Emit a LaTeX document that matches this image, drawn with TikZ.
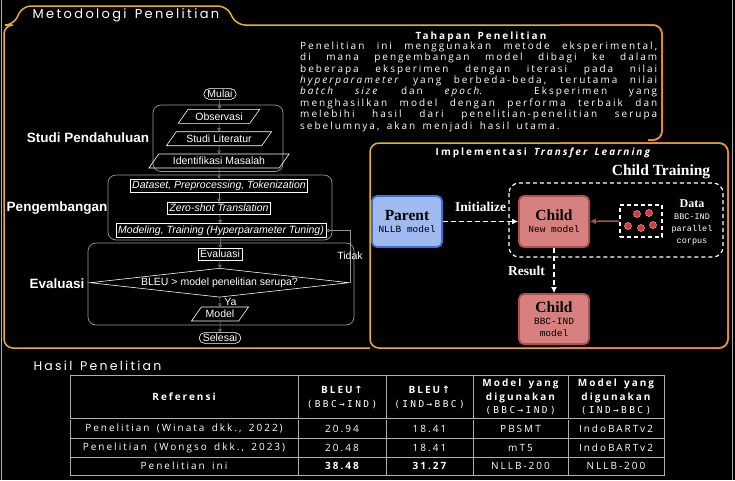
\documentclass[tikz,border=0pt]{standalone}
\usepackage{fontspec}
\setmainfont{Liberation Serif}
\newfontfamily\spacedfont[LetterSpace=20, WordSpace=1.6]{Open Sans}
\newfontfamily\headfont[LetterSpace=18, WordSpace=1.4]{Poppins}
\newfontfamily\flowfont{Liberation Sans}
\newfontfamily\codefont{Liberation Mono}
\newfontfamily\spacedmono[LetterSpace=25]{DejaVu Sans Mono}
\newfontfamily\symfont{DejaVu Sans}
\usetikzlibrary{shapes.geometric,shapes.misc,arrows.meta,positioning}

\definecolor{framegold}{RGB}{228,178,52}
\definecolor{frameorange}{RGB}{238,140,58}
\definecolor{parentfill}{RGB}{160,185,240}
\definecolor{parentdraw}{RGB}{60,110,220}
\definecolor{childfill}{RGB}{214,128,128}
\definecolor{childdraw}{RGB}{178,78,76}
\definecolor{dotred}{RGB}{205,60,60}
\definecolor{dotring}{RGB}{240,140,140}
\definecolor{tablegray}{RGB}{175,175,175}

\newcommand{\boxname}[1]{{\bfseries\fontsize{15.5}{17}\selectfont #1}}
\newcommand{\boxcode}[1]{{\codefont\fontsize{9.5}{10.5}\selectfont #1}}
\newcommand{\datacode}[1]{{\codefont\fontsize{8.5}{10}\selectfont #1}}

\tikzset{
  flowtxt/.style={text=white, font=\flowfont\fontsize{10.5}{12}\selectfont, line width=0.6pt},
  terminal/.style={flowtxt, draw=white, rounded rectangle, inner xsep=2pt, inner ysep=1.5pt},
  process/.style={flowtxt, draw=white, inner xsep=2pt, inner ysep=2pt},
  inout/.style={flowtxt, draw=white, trapezium, trapezium left angle=55, trapezium right angle=125, inner xsep=0pt, inner ysep=1.5pt, minimum height=14pt},
  decision/.style={flowtxt, draw=white, diamond, aspect=9, inner sep=0pt, minimum width=259pt, minimum height=29pt},
  flowarrow/.style={draw=gray!85, line width=0.5pt, -{Triangle[open,length=3pt,width=3.5pt]}},
  groupbox/.style={draw=gray!80!white, rounded corners=8pt, line width=0.7pt},
  grouplabel/.style={text=white, font=\flowfont\bfseries\fontsize{13.5}{15}\selectfont},
  headtxt/.style={text=white, font=\headfont\fontsize{13}{15}\selectfont},
  spaced/.style={text=white, font=\spacedfont\fontsize{10}{11.4}\selectfont},
  modelbox/.style={rounded corners=5pt, line width=1.8pt, minimum width=70pt, minimum height=51pt, align=center, text=black, inner sep=0pt},
  tflabel/.style={text=white, font=\bfseries\fontsize{13.5}{15}\selectfont},
  tfarrow/.style={white, line width=1.5pt, dash pattern=on 5pt off 3pt, -{Latex[length=6pt,width=6pt]}},
  tline/.style={tablegray, line width=0.7pt}
}

\begin{document}
\begin{tikzpicture}[x=1pt, y=-1pt]
  % Background
  \fill[black] (0,0) rectangle (735,480);
  \useasboundingbox (0,0) rectangle (735,480);
  \draw[gray!60, line width=0.6pt] (1.5,0) -- (1.5,480);
  \draw[gray!60, line width=0.6pt] (732,0) -- (732,480);

  % Frames
  \draw[framegold, line width=1.5pt, rounded corners=9pt] (370,348) -- (4,348) -- (4,25) -- (14,25) -- (22,6) -- (227,6) -- (236,25) -- (662,25) -- (662,140) -- (648,140);
  \draw[frameorange, line width=1.5pt, rounded corners=9pt] (560,25) -- (662,25) -- (662,140) -- (648,140);
  \draw[framegold, line width=1.5pt, rounded corners=9pt] (370,143) rectangle (728,348);
  \draw[frameorange, line width=1.5pt, rounded corners=9pt] (560,143) -- (728,143) -- (728,348) -- (560,348);
  \node[headtxt] (title) at (126,15) {Metodologi Penelitian};

  % Tahapan Penelitian
  \node[spaced, font=\spacedfont\bfseries\fontsize{10}{11.4}\selectfont] (tahapanTitle) at (481,37) {Tahapan Penelitian};
  \node[spaced, text width=357pt, align=justify, anchor=north west, inner sep=0pt] (tahapanText) at (300,41.5)
    {\hyphenpenalty=10000\exhyphenpenalty=10000 Penelitian ini menggunakan metode eksperimental,\linebreak
     di mana pengembangan model dibagi ke dalam\linebreak
     beberapa eksperimen dengan iterasi pada nilai\linebreak
     \textit{hyperparameter} yang berbeda-beda, terutama nilai\linebreak
     \textit{batch size} dan \textit{epoch}. Eksperimen yang\linebreak
     menghasilkan model dengan performa terbaik dan\linebreak
     melebihi hasil dari penelitian-penelitian serupa\linebreak
     sebelumnya, akan menjadi hasil utama.};

  % Group boxes
  \draw[groupbox] (153,105) rectangle (283,171.5);
  \draw[groupbox] (108,175) rectangle (332,240);
  \draw[groupbox] (88,243) rectangle (354,325);
  \node[grouplabel] (studiLabel) at (88,138) {Studi Pendahuluan};
  \node[grouplabel] (pengLabel) at (57,208) {Pengembangan};
  \node[grouplabel] (evalLabel) at (57,284) {Evaluasi};

  % Flowchart
  \node[terminal] (mulai) at (220,94) {Mulai};
  \node[inout] (obs) at (219,116.3) {Observasi};
  \node[inout] (lit) at (219,138.7) {Studi Literatur};
  \node[inout] (idf) at (219,161) {Identifikasi Masalah};
  \node[process] (dataset) at (219,185.7) {\itshape Dataset, Preprocessing, Tokenization};
  \node[process] (zeroshot) at (219,208) {\itshape Zero-shot Translation};
  \node[process] (modeling) at (221,230.5) {\itshape Modeling, Training (Hyperparameter Tuning)};
  \node[process] (evaluasi) at (220,254) {Evaluasi};
  \node[decision] (bleu) at (219.5,282.7) {BLEU > model penelitian serupa?};
  \node[inout] (model) at (220,314) {Model};
  \node[terminal] (selesai) at (220,338) {Selesai};

  \draw[flowarrow] (mulai) -- (obs);
  \draw[flowarrow] (obs) -- (lit);
  \draw[flowarrow] (lit) -- (idf);
  \draw[flowarrow] (idf) -- (dataset);
  \draw[flowarrow] (dataset) -- (zeroshot);
  \draw[flowarrow] (zeroshot) -- (modeling);
  \draw[flowarrow] (modeling) -- (evaluasi);
  \draw[flowarrow] (evaluasi) -- (bleu);
  \draw[flowarrow] (bleu) -- (model) node[flowtxt, midway, right=1pt] (ya) {Ya};
  \draw[flowarrow] (model) -- (selesai);
  \draw[flowarrow] (bleu.east) -- ++(1,0) |- (modeling.east);
  \node[flowtxt] (tidak) at (350,256) {Tidak};

  % Implementasi Transfer Learning
  \node[spaced, font=\spacedfont\bfseries\fontsize{10}{11}\selectfont] (implTitle) at (544,153) {Implementasi \textit{Transfer Learning}};
  \draw[white, line width=1.2pt, dash pattern=on 4pt off 3pt, rounded corners=10pt] (509,183) rectangle (723,257);
  \node[tflabel, font=\bfseries\fontsize{15.5}{17}\selectfont] (ctLabel) at (661,172) {Child Training};

  \node[modelbox, fill=parentfill, draw=parentdraw] (parent) at (407,221.5)
    {\boxname{Parent}\\\boxcode{NLLB model}};
  \node[modelbox, fill=childfill, draw=childdraw] (child) at (554,221.5)
    {\boxname{Child}\\\boxcode{New model}};
  \node[modelbox, fill=childfill, draw=childdraw, minimum height=50pt] (child2) at (554,319)
    {\boxname{Child}\\\boxcode{BBC-IND}\\\boxcode{model}};

  \node[draw=white, line width=1.2pt, dash pattern=on 4pt off 3pt, minimum width=42pt, minimum height=32pt] (data) at (641,221) {};
  \foreach \p in {(637,214),(649,213),(628,226),(641,228),(653,225)}
    \filldraw[fill=dotred, draw=dotring, line width=0.6pt] \p circle (3.5pt);
  \node[text=white, align=center] (dataLabel) at (692,222)
    {{\bfseries\fontsize{12}{13}\selectfont Data}\\\datacode{BBC-IND}\\\datacode{parallel}\\\datacode{corpus}};

  \draw[tfarrow] (parent) -- (child) node[tflabel, midway, above=6pt] (init) {Initialize};
  \draw[childdraw, line width=1.5pt, -{Latex[length=6pt,width=6pt]}] (data) -- (child);
  \draw[tfarrow] (child) -- (child2) node[tflabel, midway, left=5pt] (result) {Result};

  % Hasil Penelitian
  \node[headtxt, font=\headfont\fontsize{12.5}{14}\selectfont] (hasil) at (97.5,366) {Hasil Penelitian};
  \draw[tline] (70,375) rectangle (664,475);
  \foreach \x in {298,386,473,568}
    \draw[tline] (\x,375) -- (\x,475);
  \draw[tablegray, line width=0.6pt, double=black, double distance=1pt] (70,419) -- (664,419);
  \foreach \y in {438,457}
    \draw[tline] (70,\y) -- (664,\y);

  \node[spaced, font=\spacedfont\bfseries\fontsize{10}{11}\selectfont] (hRef) at (184,397) {Referensi};
  \node[spaced, align=center, font=\spacedfont\fontsize{10}{14}\selectfont] (hBleuA) at (342,397)
    {{\bfseries BLEU\,{\symfont\bfseries ↑}}\\{\spacedmono\fontsize{9.5}{14}\selectfont (BBC→IND)}};
  \node[spaced, align=center, font=\spacedfont\fontsize{10}{14}\selectfont] (hBleuB) at (429.5,397)
    {{\bfseries BLEU\,{\symfont\bfseries ↑}}\\{\spacedmono\fontsize{9.5}{14}\selectfont (IND→BBC)}};
  \node[spaced, align=center, font=\spacedfont\bfseries\fontsize{10}{13.5}\selectfont] (hModelA) at (520.5,397)
    {Model yang\\digunakan\\{\spacedmono\mdseries\fontsize{9.5}{13.5}\selectfont (BBC→IND)}};
  \node[spaced, align=center, font=\spacedfont\bfseries\fontsize{10}{13.5}\selectfont] (hModelB) at (616,397)
    {Model yang\\digunakan\\{\spacedmono\mdseries\fontsize{9.5}{13.5}\selectfont (IND→BBC)}};

  \node[spaced] (r1c1) at (184,428.5) {Penelitian (Winata dkk., 2022)};
  \node[spaced] (r1c2) at (342,428.5) {20.94};
  \node[spaced] (r1c3) at (429.5,428.5) {18.41};
  \node[spaced] (r1c4) at (520.5,428.5) {PBSMT};
  \node[spaced] (r1c5) at (616,428.5) {IndoBARTv2};

  \node[spaced] (r2c1) at (184,447.5) {Penelitian (Wongso dkk., 2023)};
  \node[spaced] (r2c2) at (342,447.5) {20.48};
  \node[spaced] (r2c3) at (429.5,447.5) {18.41};
  \node[spaced] (r2c4) at (520.5,447.5) {mT5};
  \node[spaced] (r2c5) at (616,447.5) {IndoBARTv2};

  \node[spaced] (r3c1) at (184,466) {Penelitian ini};
  \node[spaced] (r3c2) at (342,466) {\bfseries 38.48};
  \node[spaced] (r3c3) at (429.5,466) {\bfseries 31.27};
  \node[spaced] (r3c4) at (520.5,466) {NLLB-200};
  \node[spaced] (r3c5) at (616,466) {NLLB-200};
\end{tikzpicture}
\end{document}
